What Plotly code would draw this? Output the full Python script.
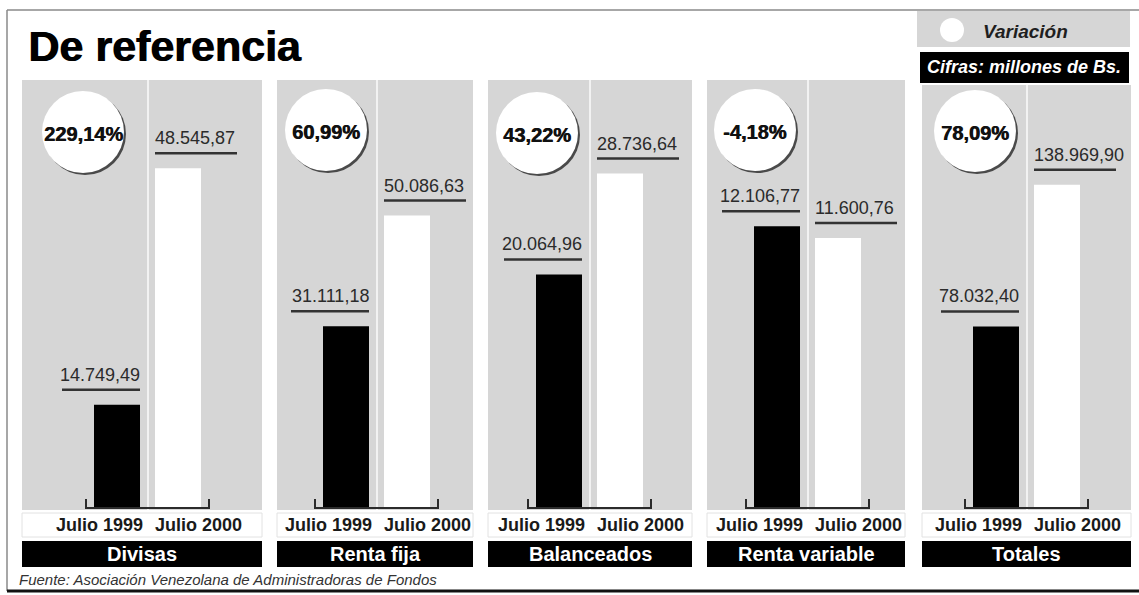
import plotly.graph_objects as go

W, H = 1139, 595

# ---- data -------------------------------------------------------------
categories = ["Divisas", "Renta fija", "Balanceados", "Renta variable", "Totales"]
periods = ["Julio 1999", "Julio 2000"]
values_1999 = [14749.49, 31111.18, 20064.96, 12106.77, 78032.40]
values_2000 = [48545.87, 50086.63, 28736.64, 11600.76, 138969.90]
variation_pct = [229.14, 60.99, 43.22, -4.18, 78.09]

title_text = "De referencia"
legend_text = "Variación"
units_text = "Cifras: millones de Bs."
source_text = "Fuente: Asociación Venezolana de Administradoras de Fondos"

# ---- layout geometry (pixels) ------------------------------------------
panel_left = [22, 277, 488, 707, 922]
panel_split = [148, 377, 590, 808, 1027]
panel_right = [262, 473, 692, 905, 1131]
panel_top = [80, 80, 80, 80, 85]
circle_center = [(83, 132), (326, 130), (537, 133), (755, 130), (975, 131)]
circle_r = 41
axis_max = [61140, 73290, 36770, 18385, 184000]   # each panel has its own scale
plot_top_px, base_px, panel_bottom_px = 80, 508, 510
unit_px = 61          # pixels between the two bar centres
bar_px = 46           # bar width in pixels
bar_w = bar_px / unit_px

GRAY = "#d6d6d6"
INK = "#2b2b2b"
FONT = "Liberation Sans, Arial, sans-serif"


def px(x):
    return x / W


def py(y):
    return 1 - y / H


def es_number(v):
    s = f"{v:,.2f}"
    return s.replace(",", "_").replace(".", ",").replace("_", ".")


def es_pct(v):
    return f"{v:.2f}".replace(".", ",") + "%"


fig = go.Figure()
shapes = []
annotations = []

# frame
shapes.append(dict(type="line", xref="paper", yref="paper", x0=px(7), x1=px(7),
                   y0=py(10), y1=py(591), line=dict(color="#8a8a8a", width=1.5)))
shapes.append(dict(type="line", xref="paper", yref="paper", x0=px(7), x1=1,
                   y0=py(10), y1=py(10), line=dict(color="#8a8a8a", width=1.5)))
shapes.append(dict(type="line", xref="paper", yref="paper", x0=px(7), x1=1,
                   y0=py(591), y1=py(591), line=dict(color="#111111", width=3)))

for i, cat in enumerate(categories):
    n = "" if i == 0 else str(i + 1)
    xa, ya = "x" + n, "y" + n
    x0, xs, x1 = panel_left[i], panel_split[i], panel_right[i]
    c0 = xs - 31  # centre of the first bar

    # axes for this panel
    fig.update_layout(**{
        "xaxis" + n: dict(domain=[px(x0), px(x1)],
                          range=[(x0 - c0) / unit_px, (x1 - c0) / unit_px],
                          type="linear", visible=False, fixedrange=True,
                          anchor=ya),
        "yaxis" + n: dict(domain=[py(base_px), py(plot_top_px)],
                          range=[0, axis_max[i]], visible=False,
                          fixedrange=True, anchor=xa),
    })

    # gray panel with its light divider
    shapes.append(dict(type="rect", xref="paper", yref="paper", layer="below",
                       x0=px(x0), x1=px(x1), y0=py(panel_bottom_px), y1=py(panel_top[i]),
                       fillcolor=GRAY, line=dict(width=0)))
    shapes.append(dict(type="line", xref="paper", yref="paper", layer="below",
                       x0=px(xs), x1=px(xs), y0=py(panel_bottom_px), y1=py(panel_top[i]),
                       line=dict(color="#f2f2f2", width=2)))

    # bars
    fig.add_trace(go.Bar(
        x=[0, 1], y=[values_1999[i], values_2000[i]], width=bar_w,
        marker=dict(color=["#000000", "#ffffff"], line=dict(width=0)),
        xaxis=xa, yaxis=ya, hoverinfo="skip", showlegend=False,
    ))

    # bracket under the bars
    bl, br = xs - 62, xs + 61
    shapes.append(dict(type="path", xref="paper", yref="paper",
                       path=f"M {px(bl)},{py(base_px - 9)} L {px(bl)},{py(base_px)} "
                            f"L {px(br)},{py(base_px)} L {px(br)},{py(base_px - 9)}",
                       line=dict(color=INK, width=2)))

    # value labels with underline
    for k, (v, side) in enumerate([(values_1999[i], "right"), (values_2000[i], "left")]):
        edge = k + (bar_w / 2 if side == "right" else -bar_w / 2)
        annotations.append(dict(
            x=edge, y=v, xref=xa, yref=ya, text=es_number(v), showarrow=False,
            xanchor=side, yanchor="middle", yshift=30, xshift=(2 if side == "right" else -2),
            font=dict(family=FONT, size=18, color=INK)))
        ux0, ux1 = (-78, 0) if side == "right" else (0, 82)
        shapes.append(dict(type="line", xref=xa, yref=ya,
                           xsizemode="pixel", ysizemode="pixel",
                           xanchor=edge, yanchor=v, x0=ux0, x1=ux1, y0=15, y1=15,
                           line=dict(color="#333333", width=2.5)))

    # variation bubble
    cx, cy = circle_center[i]
    shapes.append(dict(type="circle", xref="paper", yref="paper",
                       x0=px(cx - circle_r + 2), x1=px(cx + circle_r + 2),
                       y0=py(cy + circle_r + 2), y1=py(cy - circle_r + 2),
                       fillcolor="#4a4a4a", line=dict(width=0)))
    shapes.append(dict(type="circle", xref="paper", yref="paper",
                       x0=px(cx - circle_r), x1=px(cx + circle_r),
                       y0=py(cy + circle_r), y1=py(cy - circle_r),
                       fillcolor="#ffffff", line=dict(width=0)))
    annotations.append(dict(x=px(cx), y=py(cy + 2), xref="paper", yref="paper",
                            text=es_pct(variation_pct[i]), showarrow=False,
                            xanchor="center", yanchor="middle",
                            font=dict(family=FONT, size=20, color="#111111", weight="bold",
                                      shadow="0.6px 0px 0px #111111")))

    # period strip
    shapes.append(dict(type="rect", xref="paper", yref="paper",
                       x0=px(x0), x1=px(x1), y0=py(537), y1=py(513),
                       fillcolor="#ffffff", line=dict(color="#e2e2e2", width=1)))
    annotations.append(dict(x=px(xs - 3), y=py(525), xref="paper", yref="paper",
                            text=periods[0], showarrow=False, xanchor="right", yanchor="middle",
                            font=dict(family=FONT, size=18, color="#1a1a1a", weight="bold")))
    annotations.append(dict(x=px(xs + 5), y=py(525), xref="paper", yref="paper",
                            text=periods[1], showarrow=False, xanchor="left", yanchor="middle",
                            font=dict(family=FONT, size=18, color="#1a1a1a", weight="bold")))

    # category label box
    shapes.append(dict(type="rect", xref="paper", yref="paper",
                       x0=px(x0), x1=px(x1), y0=py(567), y1=py(541),
                       fillcolor="#000000", line=dict(width=0)))
    annotations.append(dict(x=px((x0 + x1) / 2), y=py(554), xref="paper", yref="paper",
                            text=cat, showarrow=False, xanchor="center", yanchor="middle",
                            font=dict(family=FONT, size=20, color="#ffffff", weight="bold")))

# title (a 1px shadow gives it the heavier poster weight)
annotations.append(dict(x=px(26), y=py(46), xref="paper", yref="paper", text=title_text,
                        showarrow=False, xanchor="left", yanchor="middle",
                        font=dict(family=FONT, size=43, color="#000000", weight="bold",
                                  shadow="1px 0px 0px #000000")))

# legend / units block
shapes.append(dict(type="rect", xref="paper", yref="paper", x0=px(917), x1=px(1130),
                   y0=py(47), y1=py(11), fillcolor=GRAY, line=dict(width=0)))
shapes.append(dict(type="circle", xref="paper", yref="paper", x0=px(940), x1=px(964),
                   y0=py(42), y1=py(18), fillcolor="#ffffff", line=dict(width=0)))
annotations.append(dict(x=px(981), y=py(31), xref="paper", yref="paper", text=legend_text,
                        showarrow=False, xanchor="left", yanchor="middle",
                        font=dict(family=FONT, size=19, color="#1f1f1f", weight="bold",
                                  style="italic")))
shapes.append(dict(type="rect", xref="paper", yref="paper", x0=px(920), x1=px(1129),
                   y0=py(83), y1=py(52), fillcolor="#000000", line=dict(width=0)))
annotations.append(dict(x=px(1024), y=py(67), xref="paper", yref="paper", text=units_text,
                        showarrow=False, xanchor="center", yanchor="middle",
                        font=dict(family=FONT, size=18, color="#ffffff", weight="bold",
                                  style="italic")))

# source
annotations.append(dict(x=px(17), y=py(579), xref="paper", yref="paper", text=source_text,
                        showarrow=False, xanchor="left", yanchor="middle",
                        font=dict(family=FONT, size=15, color="#333333", style="italic")))

fig.update_layout(
    width=W, height=H, margin=dict(l=0, r=0, t=0, b=0),
    paper_bgcolor="#ffffff", plot_bgcolor="rgba(0,0,0,0)",
    barmode="overlay", showlegend=False,
    shapes=shapes, annotations=annotations,
)

fig.write_html("out.html", config={"displayModeBar": False})
